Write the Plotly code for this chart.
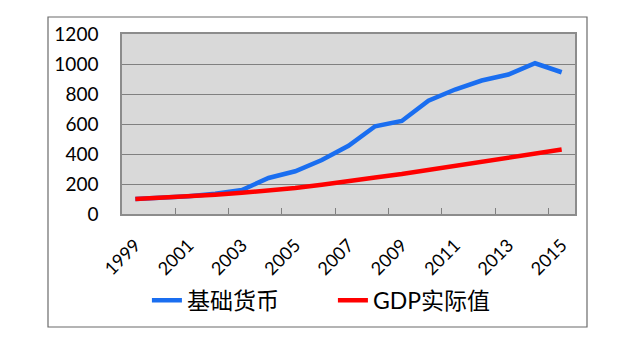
import plotly.graph_objects as go

# Annual series, index with 1999 = 100
years = [str(y) for y in range(1999, 2016)]
base_money = [100, 108, 118, 135, 160, 240, 285, 360, 455, 585, 620, 755, 830, 890, 930, 1005, 945]
real_gdp = [100, 108, 117, 128, 141, 155, 173, 195, 222, 244, 267, 293, 321, 347, 373, 400, 430]

series_names = ["基础货币", "GDP实际值"]
series_colors = ["#1a6ef0", "#ff0000"]

FONT = "Lato, 'Noto Sans CJK SC', sans-serif"

fig = go.Figure()
for name, values, color in zip(series_names, [base_money, real_gdp], series_colors):
    fig.add_trace(go.Scatter(
        x=years, y=values, name=name, mode="lines",
        line=dict(color=color, width=4.5),
    ))

fig.update_layout(
    width=640, height=344,
    margin=dict(l=122, r=65, t=34, b=130, autoexpand=False),
    paper_bgcolor="white",
    plot_bgcolor="#d9d9d9",
    font=dict(family=FONT, color="#000000", size=18),
    showlegend=True,
    legend=dict(
        orientation="h", x=0.055, y=-0.36, xanchor="left", yanchor="top",
        font=dict(size=23, family=FONT), entrywidth=141, entrywidthmode="pixels",
        bgcolor="rgba(0,0,0,0)", itemwidth=30,
    ),
)

fig.update_xaxes(
    type="category", range=[-0.5, len(years) - 0.5],
    tickson="boundaries", dtick=2,
    ticks="inside", ticklen=6, tickcolor="#808080", tickwidth=1,
    tickangle=-45, tickfont=dict(size=18), automargin=False, ticklabelstandoff=12,
    showgrid=False, showline=True, linecolor="#8c8c8c", linewidth=1.5, mirror=True,
)
fig.update_yaxes(
    range=[0, 1200], dtick=200, tickfont=dict(size=19), automargin=False,
    showgrid=True, gridcolor="#808080", gridwidth=1,
    zeroline=False, ticks="", ticklabelstandoff=18,
    showline=True, linecolor="#8c8c8c", linewidth=1.5, mirror=True,
)

# Outer chart frame
fig.add_shape(
    type="rect", xref="paper", yref="paper",
    x0=(48 - 122) / 453, x1=(587 - 122) / 453,
    y0=(214 - 327) / 180, y1=(214 - 17) / 180,
    line=dict(color="#6b6b6b", width=1.2), fillcolor="rgba(0,0,0,0)",
    layer="below",
)

fig.write_html("out.html")
